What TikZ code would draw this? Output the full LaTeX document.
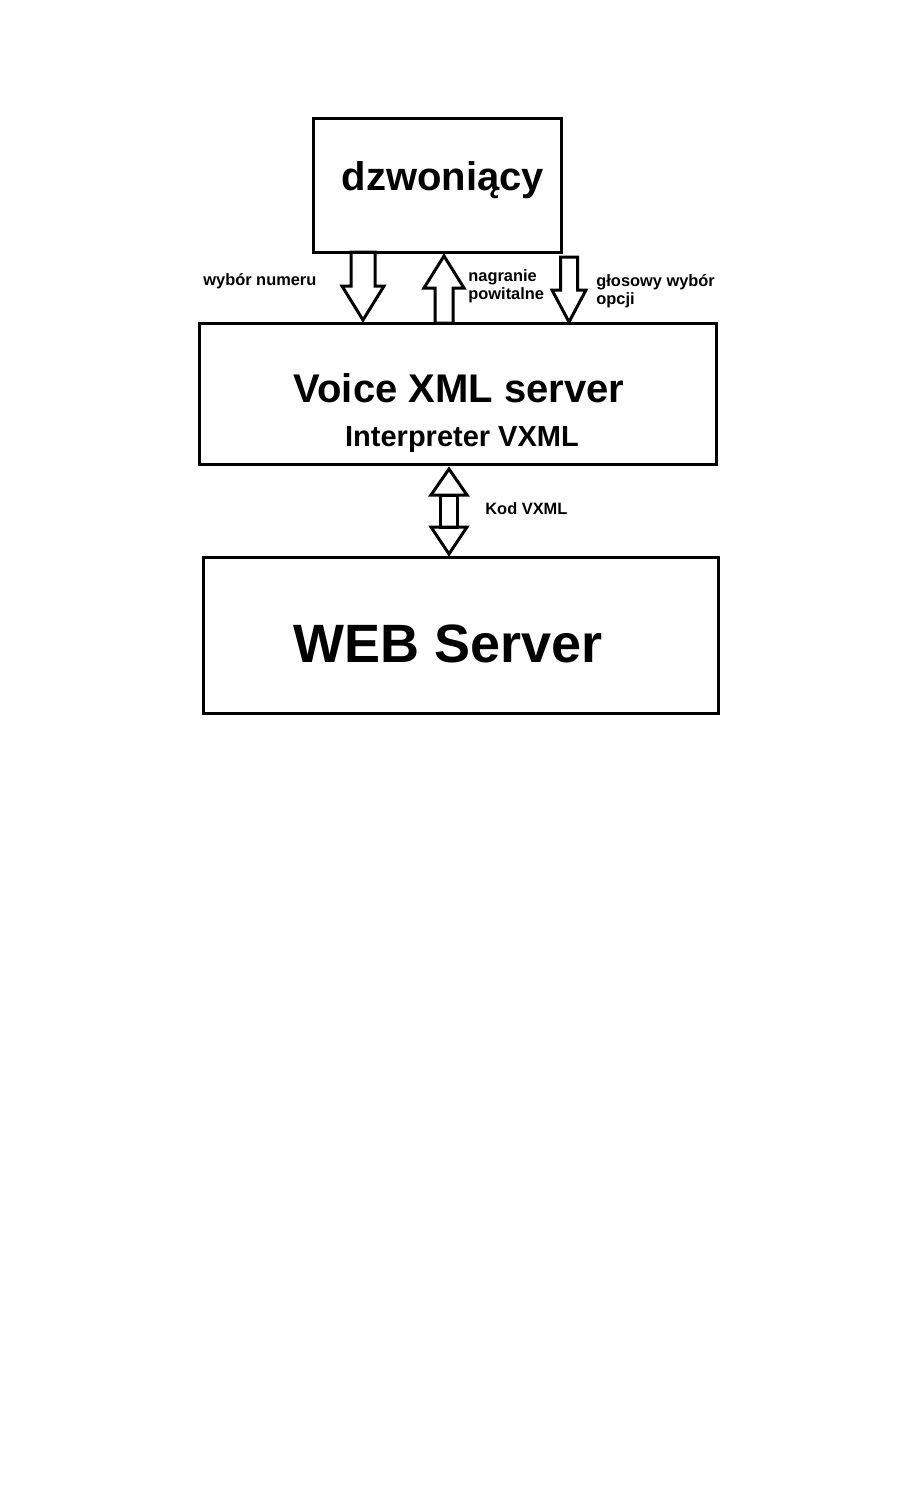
\documentclass[tikz,border=0pt]{standalone}
\usepackage{fontspec}
\setmainfont{Liberation Sans}
\usetikzlibrary{positioning}

\begin{document}
\begin{tikzpicture}[x=0.5pt,y=-0.5pt]
		\tikzset{box/.style={draw,line width=1.5pt,inner sep=0pt}};
		\tikzset{blk/.style={draw,line width=1.5pt,line join=miter}};
		\tikzset{lbl/.style={font=\fontsize{8.2}{9}\selectfont\bfseries,inner sep=0pt,anchor=base west,align=left}};
		
		\useasboundingbox (0,0) rectangle (918,1512);
		
		\node (caller) at (437,185) [box,minimum width=124pt,minimum height=67pt]{};
		\node (voice) at (457.5,393.5) [box,minimum width=258.5pt,minimum height=70.5pt]{};
		\node (web) at (460.5,635) [box,minimum width=257.5pt,minimum height=78pt]{};
		
		\node (callertxt) at (443,190) [anchor=base,inner sep=0pt,font=\fontsize{20}{24}\selectfont\bfseries]{dzwoniący};
		\node (voicetxt) at (459,402) [anchor=base,inner sep=0pt,font=\fontsize{20}{24}\selectfont\bfseries]{Voice XML server};
		\node (interp) at (462,446) [anchor=base,inner sep=0pt,font=\fontsize{14.5}{17}\selectfont\bfseries]{Interpreter VXML};
		\node (webtxt) at (448,662) [anchor=base,inner sep=0pt,font=\fontsize{27}{32}\selectfont\bfseries]{WEB Server};
		
		% strzalki blokowe
		\foreach \x/\ya/\yb/\yc/\s/\h in {363/252/286/320/12/21, 444/323/288/256/9/20, 569/257/290/322/8.5/17}
		\draw [blk] (\x-\s,\ya) -- (\x-\s,\yb) -- (\x-\h,\yb) -- (\x,\yc) -- (\x+\h,\yb) -- (\x+\s,\yb) -- (\x+\s,\ya) -- cycle;
		
		\draw [blk] (449,469) -- (467,495) -- (431,495) -- cycle;
		\draw [blk] (440.5,495) rectangle (457.5,527);
		\draw [blk] (449,554) -- (467,527) -- (431,527) -- cycle;
		
		\node (dial) at (203,285) [lbl]{wybór numeru};
		\node (greet) at (468,299) [lbl]{nagranie\\powitalne};
		\node (speech) at (596,304) [lbl]{głosowy wybór\\opcji};
		\node (code) at (485,514) [lbl]{Kod VXML};
\end{tikzpicture}
\end{document}
